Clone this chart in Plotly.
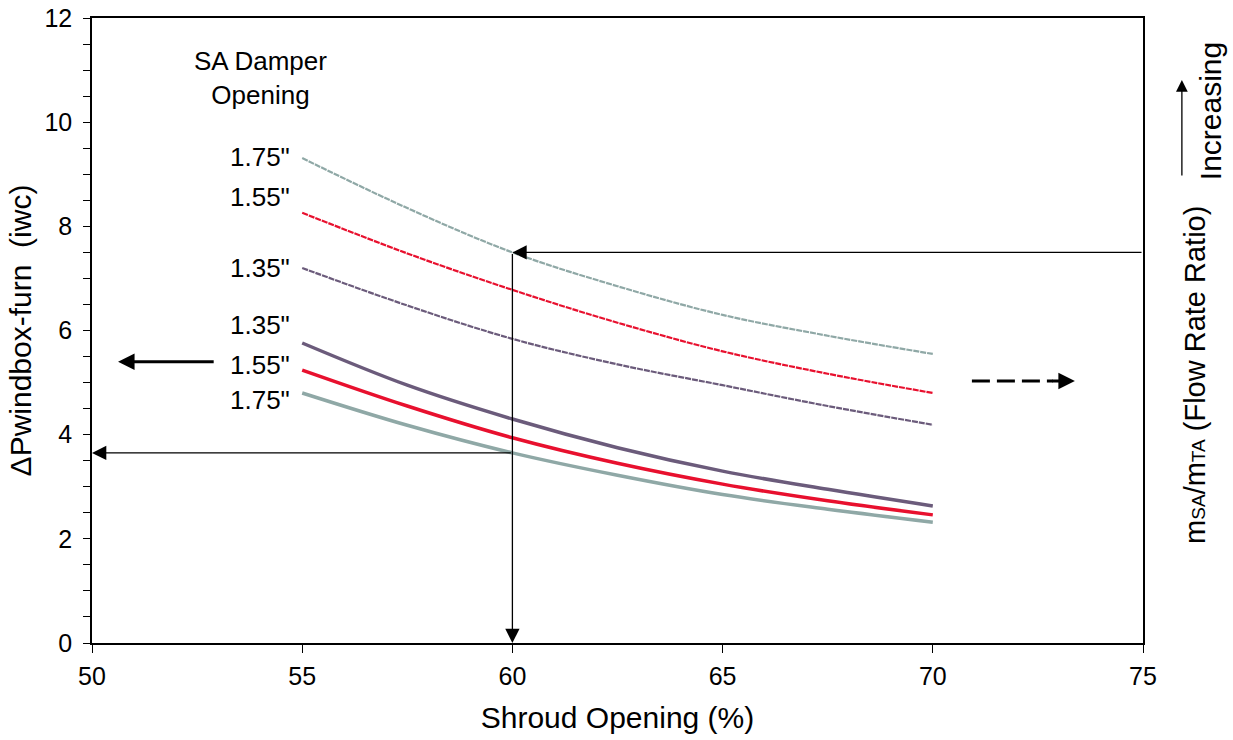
import plotly.graph_objects as go

shroud = [55, 57.5, 60, 62.5, 65, 67.5, 70]
thin_175 = [9.31, 8.35, 7.50, 6.85, 6.30, 5.90, 5.55]
thin_155 = [8.26, 7.48, 6.78, 6.15, 5.60, 5.17, 4.80]
thin_135 = [7.20, 6.48, 5.84, 5.35, 4.95, 4.55, 4.19]
thick_135 = [5.76, 4.95, 4.30, 3.75, 3.30, 2.95, 2.63]
thick_155 = [5.24, 4.55, 3.94, 3.45, 3.05, 2.73, 2.46]
thick_175 = [4.80, 4.18, 3.65, 3.22, 2.85, 2.57, 2.32]
x_ticks = [50, 55, 60, 65, 70, 75]
y_ticks = [0, 2, 4, 6, 8, 10, 12]

TEAL = "#8fa8a6"
RED = "#e8102e"
PURP = "#6b5b7b"
FONT = "Liberation Sans"

fig = go.Figure()
series = [
    (thin_175, TEAL, 2.2, "6px,1px", '1.75"', 1),
    (thin_155, RED, 2.2, "6px,1px", '1.55"', 16),
    (thin_135, PURP, 2.2, "6px,1px", '1.35"', 0),
    (thick_135, PURP, 3.5, "solid", '1.35"', 18),
    (thick_155, RED, 3.5, "solid", '1.55"', 5),
    (thick_175, TEAL, 3.5, "solid", '1.75"', -7),
]
for ys, c, w, d, name, ysh in series:
    fig.add_trace(go.Scatter(x=shroud, y=ys, mode="lines", name=name,
                             line=dict(color=c, width=w, dash=d, shape="spline"),
                             showlegend=False))
    fig.add_annotation(x=shroud[0], y=ys[0], text=name, showarrow=False,
                       xanchor="right", xshift=-10, yshift=ysh,
                       font=dict(family=FONT, size=26, color="black"))

fig.add_annotation(x=54.0, y=10.85, text="SA Damper<br>Opening", showarrow=False,
                   font=dict(family=FONT, size=26, color="black"), align="center")

# reading arrows
for (x, y, ax, ay) in [(60, 7.5, 75, 7.5), (60, 0, 60, 7.5), (50, 3.65, 60, 3.65)]:
    fig.add_annotation(x=x, y=y, ax=ax, ay=ay, axref="x", ayref="y", xref="x", yref="y",
                       text="", showarrow=True, arrowhead=2, arrowsize=2.2, arrowwidth=1.3,
                       arrowcolor="black")
# axis indicator arrows
fig.add_annotation(x=50.62, y=5.4, ax=52.93, ay=5.4, axref="x", ayref="y", xref="x", yref="y",
                   text="", showarrow=True, arrowhead=2, arrowsize=1.1, arrowwidth=3,
                   arrowcolor="black")
fig.add_shape(type="line", x0=70.93, x1=72.85, y0=5.03, y1=5.03, xref="x", yref="y",
              line=dict(color="black", width=3, dash="18px,7px"))
fig.add_annotation(x=73.38, y=5.03, ax=72.8, ay=5.03, axref="x", ayref="y", xref="x", yref="y",
                   text="", showarrow=True, arrowhead=2, arrowsize=1.1, arrowwidth=3,
                   arrowcolor="black")
# right side
fig.add_annotation(x=1.037, y=0.9008, ax=0, ay=97, xref="paper", yref="paper",
                   axref="pixel", ayref="pixel", text="", showarrow=True, arrowhead=2,
                   arrowsize=1.8, arrowwidth=1.3, arrowcolor="black")
fig.add_annotation(x=1.0638, y=0.851, xref="paper", yref="paper", text="Increasing",
                   textangle=-90, showarrow=False, xanchor="center", yanchor="middle",
                   font=dict(family=FONT, size=30, color="black"))
fig.add_annotation(x=1.0495, y=0.429, xref="paper", yref="paper",
                   text="m<span style='font-size:19px'>SA</span>/m<span style='font-size:19px'>TA</span> (Flow Rate Ratio)",
                   textangle=-90, showarrow=False, xanchor="center", yanchor="middle",
                   font=dict(family=FONT, size=29, color="black"))

fig.update_layout(
    width=1233, height=740,
    margin=dict(l=92, r=90, t=18, b=97),
    plot_bgcolor="white", paper_bgcolor="white",
    font=dict(family=FONT, size=25, color="black"),
    xaxis=dict(range=[50, 75], tickvals=x_ticks, ticks="outside", automargin=False,
               ticklen=8, tickcolor="black", showline=True, linecolor="black", linewidth=1.5,
               mirror=True, showgrid=False, zeroline=False, ticklabelstandoff=2,
               title=dict(text="Shroud Opening (%)", font=dict(size=30), standoff=18),
               tickfont=dict(size=25)),
    yaxis=dict(range=[0, 12], tickvals=y_ticks, ticks="outside", automargin=False,
               ticklen=7, tickcolor="black", showline=True, linecolor="black", linewidth=1.5,
               mirror=True, showgrid=False, zeroline=False, ticklabelstandoff=6,
               minor=dict(dtick=0.5, ticks="outside", ticklen=7, tickcolor="black"),
               title=dict(text="ΔPwindbox-furn\u00a0\u00a0(iwc)", font=dict(size=30), standoff=4),
               tickfont=dict(size=25)),
)
fig.write_html("out.html")
